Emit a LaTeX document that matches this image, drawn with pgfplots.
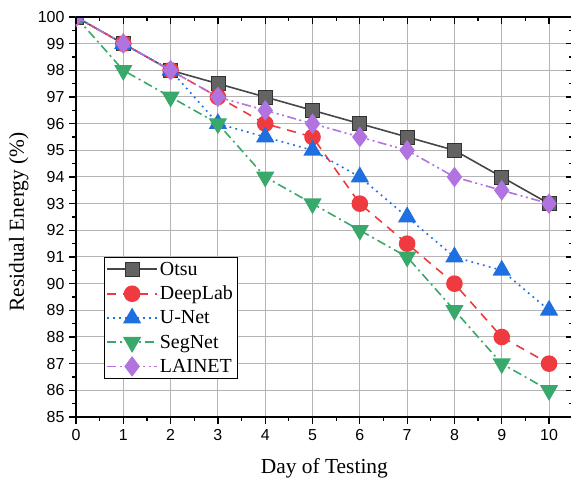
\documentclass[border=0pt]{standalone}
\usepackage{fontspec}
\setmainfont{Liberation Serif}
\setsansfont{Liberation Sans}
\usepackage{pgfplots}
\pgfplotsset{compat=1.18}
\definecolor{cOtsu}{HTML}{474747}
\definecolor{cDeep}{HTML}{EF3B3F}
\definecolor{cUnet}{HTML}{1E6FE0}
\definecolor{cSeg}{HTML}{38A96A}
\definecolor{cLai}{HTML}{B173DF}
\definecolor{cGrid}{HTML}{B4B4B4}
\begin{document}
\begin{tikzpicture}
\path[use as bounding box] (-76bp,-63bp) rectangle (495bp,417bp);
\pgfplotsset{
  common/.style={
    scale only axis, width=496.7bp, height=400bp,
    at={(0,0)}, anchor=south west,
    xmin=0, xmax=10.5, ymin=85, ymax=100,
    xtick={0,1,...,10}, ytick={85,86,...,100},
    minor x tick num=1, minor y tick num=1,
    major tick length=7bp, minor tick length=4bp,
    every tick/.style={black, line width=1.2bp},
    axis line style={black, line width=1.5bp},
  }
}
\begin{axis}[common,
  axis x line*=bottom, axis y line*=left,
  tick align=outside,
  clip marker paths=true,
  grid=major, major grid style={cGrid, line width=1bp},
  /pgf/number format/assume math mode=true,
  ticklabel style={font=\sffamily\fontsize{16}{18}\selectfont},
  xticklabel style={yshift=-2bp},
  yticklabel style={xshift=-1bp},
  xlabel={Day of Testing},
  ylabel={Residual Energy (\%)},
  label style={font=\fontsize{21.5}{25}\selectfont},
  xlabel style={at={(axis description cs:0.5,-0.1275)}, anchor=center},
  ylabel style={at={(axis description cs:-0.115,0.4875)}, anchor=center},
  legend style={at={(axis cs:0.59,86.42)}, anchor=south west,
    draw=black, line width=0.8bp, fill=white,
    font=\fontsize{20}{22}\selectfont, row sep=5.5bp,
    inner xsep=2bp, inner ysep=3bp},
  legend cell align=left,
  legend image code/.code={\draw[mark repeat=2,mark phase=2] plot coordinates {(0bp,0bp) (25bp,0bp) (50bp,0bp)};},
  every axis plot/.append style={line width=1.6bp},
]
\addplot[cOtsu, solid, mark=square*, mark size=7bp, mark options={solid, fill=cOtsu!85!white, draw=cOtsu!70!black, line width=0.8bp}]
  coordinates {(0,100) (1,99) (2,98) (3,97.5) (4,97) (5,96.5) (6,96) (7,95.5) (8,95) (9,94) (10,93)};
\addlegendentry{Otsu}
\addplot[cDeep, dash pattern=on 9bp off 7bp, mark=*, mark size=7.5bp, mark options={solid, fill=cDeep, draw=cDeep}]
  coordinates {(0,100) (1,99) (2,98) (3,97) (4,96) (5,95.5) (6,93) (7,91.5) (8,90) (9,88) (10,87)};
\addlegendentry{DeepLab}
\addplot[cUnet, dash pattern=on 1.8bp off 4.2bp, mark=triangle*, mark size=9bp, mark options={solid, fill=cUnet, draw=cUnet}]
  coordinates {(0,100) (1,99) (2,98) (3,96) (4,95.5) (5,95) (6,94) (7,92.5) (8,91) (9,90.5) (10,89)};
\addlegendentry{U-Net}
\addplot[cSeg, dash pattern=on 9bp off 4bp on 2bp off 4bp, mark=triangle*, mark size=9bp, mark options={solid, rotate=180, fill=cSeg, draw=cSeg}]
  coordinates {(0,100) (1,98) (2,97) (3,96) (4,94) (5,93) (6,92) (7,91) (8,89) (9,87) (10,86)};
\addlegendentry{SegNet}
\addplot[cLai, dash pattern=on 9bp off 3.5bp on 2bp off 3.5bp on 2bp off 3.5bp, mark=diamond*, mark size=9bp, mark options={solid, fill=cLai, draw=cLai}]
  coordinates {(0,100) (1,99) (2,98) (3,97) (4,96.5) (5,96) (6,95.5) (7,95) (8,94) (9,93.5) (10,93)};
\addlegendentry{LAINET}
\end{axis}
\begin{axis}[common,
  axis x line*=top, axis y line*=right,
  tick align=inside,
  xticklabels={}, yticklabels={},
]
\end{axis}
\end{tikzpicture}
\end{document}
